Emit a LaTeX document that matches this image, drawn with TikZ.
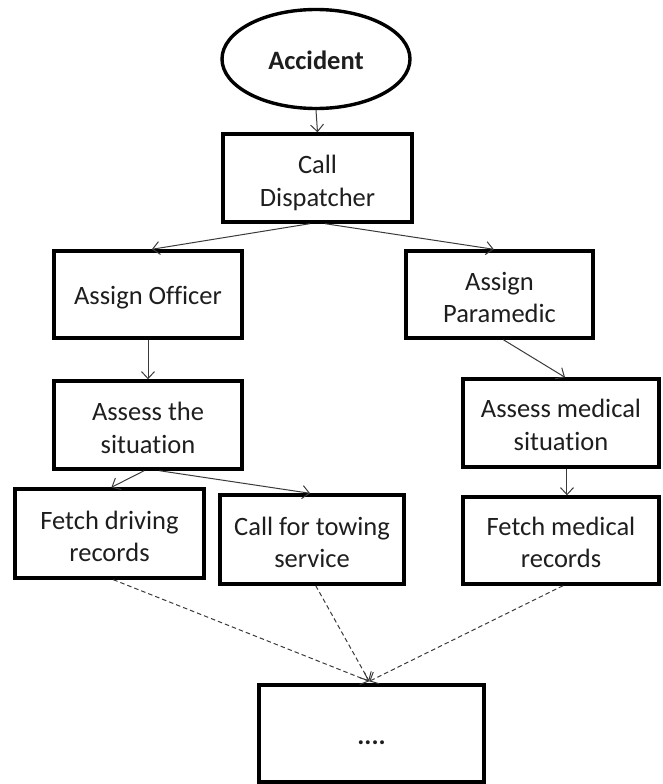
\documentclass[tikz,border=0pt]{standalone}
\usepackage{fontspec}
\setmainfont{Carlito}[Ligatures=NoCommon]
\usetikzlibrary{arrows.meta,calc,shapes.geometric}
\definecolor{ink}{HTML}{1E1E1E}
\definecolor{wire}{HTML}{3A3A3A}
\begin{document}
\begin{tikzpicture}[x=1pt,y=-1pt,
  every node/.style={text=ink,font=\fontsize{26.5}{32.5}\selectfont,align=center,inner sep=0pt},
  proc/.style={draw=black,line width=3.4pt,rectangle},
  term/.style={draw=black,line width=3.4pt,ellipse},
  label text/.style={yshift=-3pt},
  flow/.style={draw=wire,line width=1pt,-{Straight Barb[length=7pt,width=13pt]}},
  later/.style={flow,dash pattern=on 4.5pt off 3pt}]
\useasboundingbox (0,0) rectangle (662,784);

% shapes
\node[term,minimum width=188pt,minimum height=99pt] (acc) at (316,59) {};
\node[proc,minimum width=189pt,minimum height=88pt] (disp) at (317.5,178) {};
\node[proc,minimum width=188pt,minimum height=87pt] (off) at (148,294.5) {};
\node[proc,minimum width=187pt,minimum height=87pt] (para) at (499.5,294.5) {};
\node[proc,minimum width=188pt,minimum height=88pt] (asit) at (148,425) {};
\node[proc,minimum width=196pt,minimum height=88pt] (amed) at (561,423) {};
\node[proc,minimum width=189pt,minimum height=89pt] (drive) at (109.5,533.5) {};
\node[proc,minimum width=184pt,minimum height=89pt] (tow) at (312,539.5) {};
\node[proc,minimum width=196pt,minimum height=87pt] (fmed) at (561,540.5) {};
\node[proc,minimum width=225pt,minimum height=97pt] (next) at (371.5,733.5) {};

% texts
\node[font=\fontsize{26.5}{32.5}\selectfont\bfseries] (acc-t) at ([yshift=-1.5pt]acc.center) {Accident};
\node[label text,yshift=-2pt] (disp-t) at (disp.center) {Call\\Dispatcher};
\node[label text] (off-t) at (off.center) {Assign Officer};
\node[label text] (para-t) at (para.center) {Assign\\Paramedic};
\node[label text] (asit-t) at (asit.center) {Assess the\\situation};
\node[label text,yshift=1pt] (amed-t) at (amed.center) {Assess medical\\situation};
\node[label text] (drive-t) at (drive.center) {Fetch driving\\records};
\node[label text] (tow-t) at (tow.center) {Call for towing\\service};
\node[label text,yshift=1pt] (fmed-t) at (fmed.center) {Fetch medical\\records};
\node[font=\fontsize{26.5}{32.5}\selectfont\bfseries] (next-t) at ([yshift=-9pt]next.center) {....};

% solid connectors
\draw[flow] (acc.south) -- (disp.north);
\draw[flow] ($(disp.south west)!0.46!(disp.south east)$) -- ($(off.north west)!0.52!(off.north east)$);
\draw[flow] ($(disp.south west)!0.54!(disp.south east)$) -- ($(para.north west)!0.47!(para.north east)$);
\draw[flow] (off.south) -- (asit.north);
\draw[flow] ($(para.south west)!0.52!(para.south east)$) -- ($(amed.north west)!0.52!(amed.north east)$);
\draw[flow] ($(amed.south west)!0.53!(amed.south east)$) -- ($(fmed.north west)!0.53!(fmed.north east)$);
\draw[flow] ($(asit.south west)!0.48!(asit.south east)$) -- ($(drive.north west)!0.51!(drive.north east)$);
\draw[flow] ($(asit.south west)!0.56!(asit.south east)$) -- ($(tow.north west)!0.49!(tow.north east)$);

% dashed connectors
\coordinate (join) at ($(next.north west)!0.49!(next.north east)+(0,-2)$);
\draw[later] ($(drive.south west)!0.52!(drive.south east)$) -- (join);
\draw[later] ($(tow.south west)!0.52!(tow.south east)$) -- (join);
\draw[later] ($(fmed.south west)!0.51!(fmed.south east)$) -- (join);
\end{tikzpicture}
\end{document}
